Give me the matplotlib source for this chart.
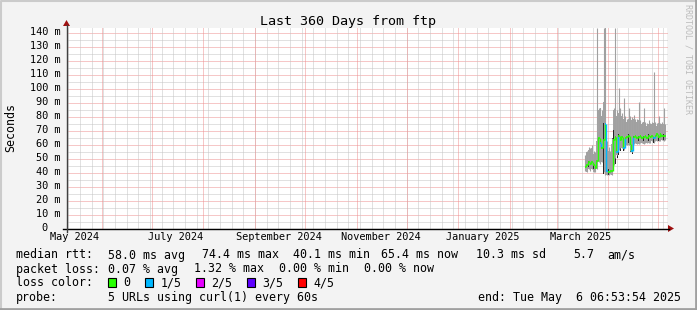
"""
SmokePing 스타일 360일 RTT 그래프 (ftp).
"""

import datetime as dt

import matplotlib

matplotlib.use("Agg")
import matplotlib.pyplot as plt
from matplotlib.patches import Polygon, Rectangle

plt.rcParams["lines.scale_dashes"] = False

W, H = 697, 310
START = dt.datetime(2024, 5, 11, 19, 0)
SPAN_DAYS = 360
Y_MAX = 142.45

# data columns (days since START)
DAYS = list(range(311, 360))
MEDIAN = [44, 45, 47, 46, 47, 45, 43, 48, 64, 61, 57, 63, 74.4, 41, 40.1, 41, 41,
          63, 65, 54, 66, 63, 65, 57, 64, 65, 66, 60, 55, 65, 66, 64, 65, 66, 64,
          65, 66, 64, 66, 65, 66, 64, 66, 67, 65, 67, 66, 66, 65.4]
LOSS = [0, 0, 0, 0, 0, 0, 0, 0, 0, 1, 0, 0, 1, 1, 0, 0, 0,
        0, 0, 1, 0, 0, 0, 1, 0, 0, 0, 0, 1, 0, 0, 0, 0, 0, 0,
        0, 0, 0, 0, 0, 0, 1, 0, 0, 0, 0, 0, 0, 0]
SMOKE_LO = [41, 40, 42, 41, 42, 40, 40, 42, 47, 46, 47, 40, 38, 38, 38, 39, 38,
            45, 50, 52, 56, 57, 57, 56, 58, 59, 59, 55, 54, 60, 61, 60, 60, 61, 61,
            60, 61, 61, 61, 61, 62, 61, 62, 62, 62, 62, 63, 62, 63]
SMOKE_HI = [50, 54, 56, 55, 57, 53, 52, 62, 84, 86, 80, 90, 143, 58, 55, 52, 60,
            84, 84, 80, 82, 84, 80, 78, 78, 76, 78, 78, 77, 78, 76, 76, 77, 75, 74,
            76, 74, 73, 74, 73, 74, 75, 74, 73, 75, 73, 74, 74, 73]
PING_MAX = [52, 55, 58, 57, 59, 55, 54, 143, 86, 86, 84, 143, 143, 62, 58, 55, 64,
            86, 143, 84, 100, 86, 82, 93, 80, 78, 86, 80, 79, 81, 78, 78, 90, 77, 76,
            86, 76, 75, 77, 75, 76, 111, 76, 75, 80, 75, 76, 86, 74]
DARK_LO = [42, 42, 44, 43, 44, 42, 41, 44, 48, 48, 48, 39, 40, 38, 38, 39, 38,
           42, 46, 50, 52, 55, 60, 55, 60, 61, 61, 54, 53, 61, 62, 61, 62, 62, 61,
           62, 62, 61, 62, 62, 62, 61, 62, 63, 62, 63, 63, 63, 63]
DARK_HI = [45, 46, 48, 47, 48, 46, 44, 50, 64, 62, 63, 75, 130, 46, 42, 43, 64,
           70, 68, 66, 67, 64, 66, 63, 65, 66, 67, 65, 64, 66, 67, 65, 66, 67, 65,
           66, 67, 65, 67, 66, 67, 65, 67, 68, 66, 68, 67, 67, 66]

LOSS_LABELS = ["0", "1/5", "2/5", "3/5", "4/5"]
LOSS_COLORS = ["#26ff00", "#00b8ff", "#e600ff", "#5e00ff", "#ff0000"]

LABEL_MONTHS = [(2024, 5), (2024, 7), (2024, 9), (2024, 11), (2025, 1), (2025, 3)]
Y_TICKS = list(range(0, 141, 10))

MONO = "DejaVu Sans Mono"
X0, X1, Y0, Y1 = 67, 667, 228.3, 28.3


def day_of(t: dt.datetime) -> float:
    return (t - START).total_seconds() / 86400


def x_px(d: float) -> float:
    return X0 + d * (X1 - X0) / SPAN_DAYS


def y_px(v: float) -> float:
    return Y0 - v * (Y0 - Y1) / Y_MAX


def month_starts() -> list[float]:
    out = []
    y, m = 2024, 6
    while True:
        d = day_of(dt.datetime(y, m, 1))
        if d > SPAN_DAYS:
            break
        out.append(d)
        m += 1
        if m > 12:
            y, m = y + 1, 1
    return out


def pixel_axes(fig, zorder):
    a = fig.add_axes([0, 0, 1, 1], zorder=zorder)
    a.set_xlim(0, W)
    a.set_ylim(H, 0)
    a.axis("off")
    a.patch.set_alpha(0)
    return a


def main() -> None:
    fig = plt.figure(figsize=(W / 100, H / 100), dpi=100)
    fig.patch.set_facecolor("#f3f3f3")

    # canvas + grid, snapped to pixels
    bg = pixel_axes(fig, 0)
    bg.add_patch(Rectangle((X0, Y1), X1 - X0, Y0 - Y1, facecolor="white", lw=0))
    dots = (0, (0.72, 0.72))
    minor_c, major_c = "#c4c4c4", "#ee9090"
    for v in range(5, 145, 5):
        yy = round(y_px(v)) + 0.5
        if yy < Y1:
            continue
        bg.plot([X0 + 1, X1], [yy, yy], color=major_c if v % 10 == 0 else minor_c,
                lw=0.72, ls=dots, solid_capstyle="butt", dash_capstyle="butt")
    sunday = day_of(dt.datetime(2024, 5, 12))
    while sunday < SPAN_DAYS:
        xx = round(x_px(sunday)) + 0.5
        bg.plot([xx, xx], [229, 28], color=minor_c, lw=0.72, ls=dots,
                dash_capstyle="butt")
        sunday += 7
    for d in month_starts():
        xx = round(x_px(d)) + 0.5
        bg.plot([xx, xx], [229, 28], color=major_c, lw=0.72, ls=dots,
                dash_capstyle="butt")

    # data
    ax = fig.add_axes([X0 / W, (H - Y0) / H, (X1 - X0) / W, (Y0 - Y1) / H], zorder=1)
    ax.patch.set_alpha(0)
    ax.set_xlim(0, SPAN_DAYS)
    ax.set_ylim(0, Y_MAX)
    for s in ax.spines.values():
        s.set_visible(False)
    ax.set_xticks([])
    ax.set_yticks([])

    ax.vlines(DAYS, SMOKE_LO, PING_MAX, color="#a0a0a0", lw=0.8)
    ax.bar(DAYS, [h - l for h, l in zip(SMOKE_HI, SMOKE_LO)], bottom=SMOKE_LO,
           width=1.0, color="#a4a4a4", linewidth=0)
    ax.bar(DAYS, [h - l for h, l in zip(DARK_HI, DARK_LO)], bottom=DARK_LO,
           width=0.6, color="#1e1e1e", linewidth=0)

    # median, coloured by loss
    for i, (d, m) in enumerate(zip(DAYS, MEDIAN)):
        c = LOSS_COLORS[LOSS[i]]
        ax.plot([d - 0.5, d + 0.5], [m, m], color=c, lw=1.2, solid_capstyle="butt")
        if i + 1 < len(DAYS):
            ax.plot([d + 0.5, d + 0.5], [m, MEDIAN[i + 1]], color=c, lw=1.0,
                    solid_capstyle="butt")

    ov = pixel_axes(fig, 5)

    # frame shading
    ov.plot([0.5, 0.5, W - 0.5], [H, 0.5, 0.5], color="#cbcbcb", lw=1.5)
    ov.plot([W - 1, W - 1, 0], [0, H - 1, H - 1], color="#a0a0a0", lw=2)

    # axes + arrows
    ov.plot([63, 669], [228.5, 228.5], color="black", lw=1)
    ov.plot([66.5, 66.5], [232, 25], color="#404040", lw=1)
    ov.add_patch(Polygon([[668, 225], [674, 228.5], [668, 232]], closed=True,
                         color="#a01010", lw=0))
    ov.add_patch(Polygon([[63, 26], [66.5, 20], [70, 26]], closed=True,
                         color="#a01010", lw=0))

    ov.text(348, 24.5, "Last 360 Days from ftp", family=MONO, size=9.6,
            ha="center", va="baseline")
    ov.text(11, 128, "Seconds", family=MONO, size=8.4, rotation=90,
            ha="center", va="center")
    ov.text(688, 4, "RRDTOOL / TOBI OETIKER", family=MONO, size=6.0,
            rotation=-90, ha="center", va="top", color="#bcbcbc")

    for v in Y_TICKS:
        if v == 0:
            ov.text(47.5, y_px(v), "0", family=MONO, size=7.4, ha="right", va="center")
        else:
            ov.text(60.5, y_px(v), f"{v} m", family=MONO, size=7.4, ha="right",
                    va="center")

    for y, m in LABEL_MONTHS:
        t = dt.datetime(y, m, 1)
        ov.text(x_px(day_of(t) + 15), 240.5, t.strftime("%B %Y"), family=MONO,
                size=7.4, ha="center", va="baseline")

    # legend
    fs = 8.4
    rows = [
        (258.5, [(16, "median rtt:"), (107.5, "58.0 ms avg"), (202, "74.4 ms max"),
                 (293, "40.1 ms min"), (381, "65.4 ms now"), (476, "10.3 ms sd"),
                 (573, "5.7"), (607, "am/s")]),
        (272.5, [(16, "packet loss:"), (107.5, "0.07 % avg"), (194, "1.32 % max"),
                 (279, "0.00 % min"), (364, "0.00 % now")]),
        (286.5, [(16, "loss color:")]),
        (300.5, [(16, "probe:"), (107.5, "5 URLs using curl(1) every 60s")]),
    ]
    for yb, items in rows:
        for x, s in items:
            ov.text(x, yb, s, family=MONO, size=fs, ha="left", va="baseline")
    ov.text(681, 300.5, "end: Tue May  6 06:53:54 2025", family=MONO, size=fs,
            ha="right", va="baseline")

    box_x = [108, 145.3, 196, 247, 298]
    for bx, c, lab in zip(box_x, LOSS_COLORS, LOSS_LABELS):
        ov.add_patch(Rectangle((bx, 278), 8, 9, facecolor=c, edgecolor="black",
                               lw=0.8))
        ov.text(bx + 15.5, 286.5, lab, family=MONO, size=fs, ha="left",
                va="baseline")

    fig.savefig("out.png", dpi=100, facecolor=fig.get_facecolor())
    plt.close(fig)


if __name__ == "__main__":
    main()
